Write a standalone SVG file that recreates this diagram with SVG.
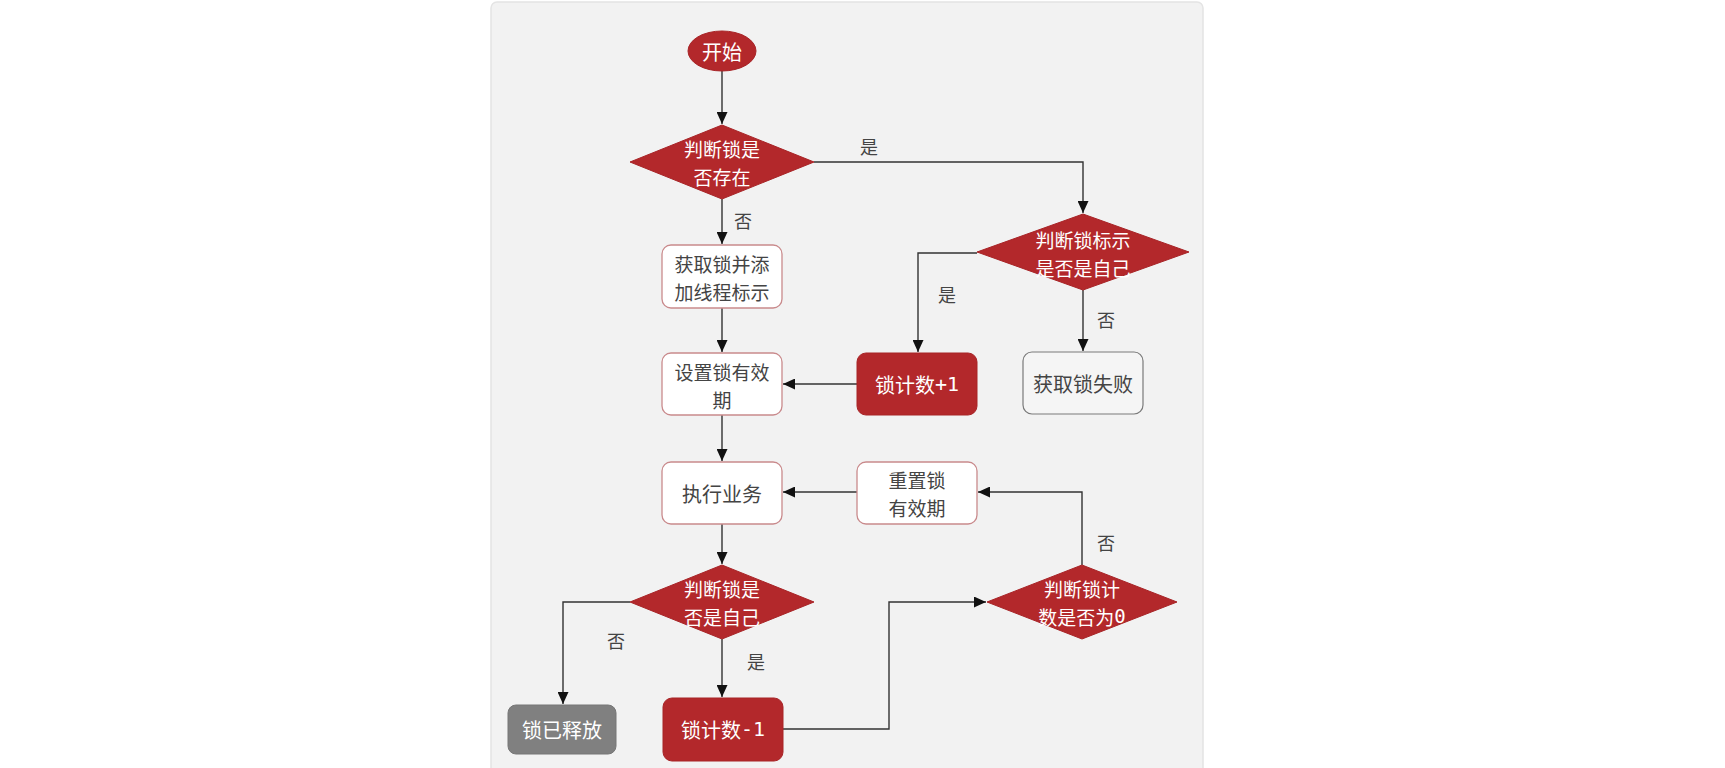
<svg xmlns="http://www.w3.org/2000/svg" width="1725" height="768" viewBox="0 0 1725 768">
<defs>
<marker id="arr" markerUnits="userSpaceOnUse" markerWidth="12" markerHeight="11" refX="12" refY="5.5" orient="auto">
<path d="M0,0 L12,5.5 L0,11 z" fill="#111"/>
</marker>
<style>
.red{fill:#b3282b;stroke:#a82427;stroke-width:1}
.wbox{fill:#ffffff;stroke:#c98a8c;stroke-width:1.3}
.fail{fill:#f5f5f5;stroke:#7a7a7a;stroke-width:1.2}
.grey{fill:#808080;stroke:#777;stroke-width:1}
.t{font-family:"Noto Sans CJK SC","Noto Sans",sans-serif;font-size:20px;text-anchor:middle;dominant-baseline:central}
.t2{font-size:19px}
.tw{fill:#ffffff}
.td{fill:#444444}
.lbl{font-family:"Noto Sans CJK SC","Noto Sans",sans-serif;font-size:18px;fill:#444;text-anchor:middle;dominant-baseline:central}
.mono{font-family:"DejaVu Sans Mono",monospace}
.c{fill:none;stroke:#333;stroke-width:1.4;marker-end:url(#arr)}
</style>
</defs>
<rect x="0" y="0" width="1725" height="768" fill="#ffffff"/>
<rect x="491" y="2" width="712" height="790" rx="6" fill="#f2f2f2" stroke="#e4e4e4" stroke-width="1.5"/>

<g id="connectors">
<path class="c" d="M722,71 L722,124"/>
<path class="c" d="M814,162 L1083,162 L1083,213"/>
<path class="c" d="M722,199 L722,244"/>
<path class="c" d="M977,253 L918,253 L918,352"/>
<path class="c" d="M1083,290 L1083,351"/>
<path class="c" d="M722,308 L722,352"/>
<path class="c" d="M857,384 L783,384"/>
<path class="c" d="M722,415 L722,461"/>
<path class="c" d="M857,492 L783,492"/>
<path class="c" d="M1082,565 L1082,492 L978,492"/>
<path class="c" d="M722,524 L722,564"/>
<path class="c" d="M630,602 L563,602 L563,704"/>
<path class="c" d="M722,639 L722,697"/>
<path class="c" d="M783,729 L889,729 L889,602 L986,602"/>
<text class="lbl" x="869" y="146">是</text>
<text class="lbl" x="743" y="220">否</text>
<text class="lbl" x="947" y="294">是</text>
<text class="lbl" x="1106" y="319">否</text>
<text class="lbl" x="1106" y="542">否</text>
<text class="lbl" x="616" y="640">否</text>
<text class="lbl" x="756" y="661">是</text>
</g>

<g id="start">
<ellipse class="red" cx="722" cy="51" rx="34" ry="20"/>
<text class="t tw" x="722" y="51">开始</text>
</g>

<g id="d-exists">
<polygon class="red" points="630,162 722,125 814,162 722,199"/>
<text class="t t2 tw" x="722" y="148">判断锁是</text>
<text class="t t2 tw" x="722" y="176">否存在</text>
</g>

<g id="d-owner">
<polygon class="red" points="977,252 1083,214 1189,252 1083,290"/>
<text class="t t2 tw" x="1083" y="239">判断锁标示</text>
<text class="t t2 tw" x="1083" y="267">是否是自己</text>
</g>

<g id="acquire">
<rect class="wbox" x="662" y="245" width="120" height="63" rx="9"/>
<text class="t t2 td" x="722" y="263">获取锁并添</text>
<text class="t t2 td" x="722" y="291">加线程标示</text>
</g>

<g id="set-expire">
<rect class="wbox" x="662" y="353" width="120" height="62" rx="9"/>
<text class="t t2 td" x="722" y="371">设置锁有效</text>
<text class="t t2 td" x="722" y="399">期</text>
</g>

<g id="inc">
<rect class="red" x="857" y="353" width="120" height="62" rx="9"/>
<text class="t tw" x="917" y="384">锁计数<tspan class="mono">+1</tspan></text>
</g>

<g id="fail">
<rect class="fail" x="1023" y="352" width="120" height="62" rx="9"/>
<text class="t td" x="1083" y="383">获取锁失败</text>
</g>

<g id="exec">
<rect class="wbox" x="662" y="462" width="120" height="62" rx="9"/>
<text class="t td" x="722" y="493">执行业务</text>
</g>

<g id="reset">
<rect class="wbox" x="857" y="462" width="120" height="62" rx="9"/>
<text class="t t2 td" x="917" y="479">重置锁</text>
<text class="t t2 td" x="917" y="507">有效期</text>
</g>

<g id="d-self">
<polygon class="red" points="630,602 722,565 814,602 722,639"/>
<text class="t t2 tw" x="722" y="588">判断锁是</text>
<text class="t t2 tw" x="722" y="616">否是自己</text>
</g>

<g id="d-count">
<polygon class="red" points="987,602 1082,565 1177,602 1082,639"/>
<text class="t t2 tw" x="1082" y="588">判断锁计</text>
<text class="t t2 tw" x="1082" y="616">数是否为<tspan class="mono">0</tspan></text>
</g>

<g id="released">
<rect class="grey" x="508" y="705" width="108" height="49" rx="8"/>
<text class="t tw" x="562" y="729">锁已释放</text>
</g>

<g id="dec">
<rect class="red" x="663" y="698" width="120" height="63" rx="9"/>
<text class="t tw" x="723" y="729">锁计数<tspan class="mono">-1</tspan></text>
</g>
</svg>
